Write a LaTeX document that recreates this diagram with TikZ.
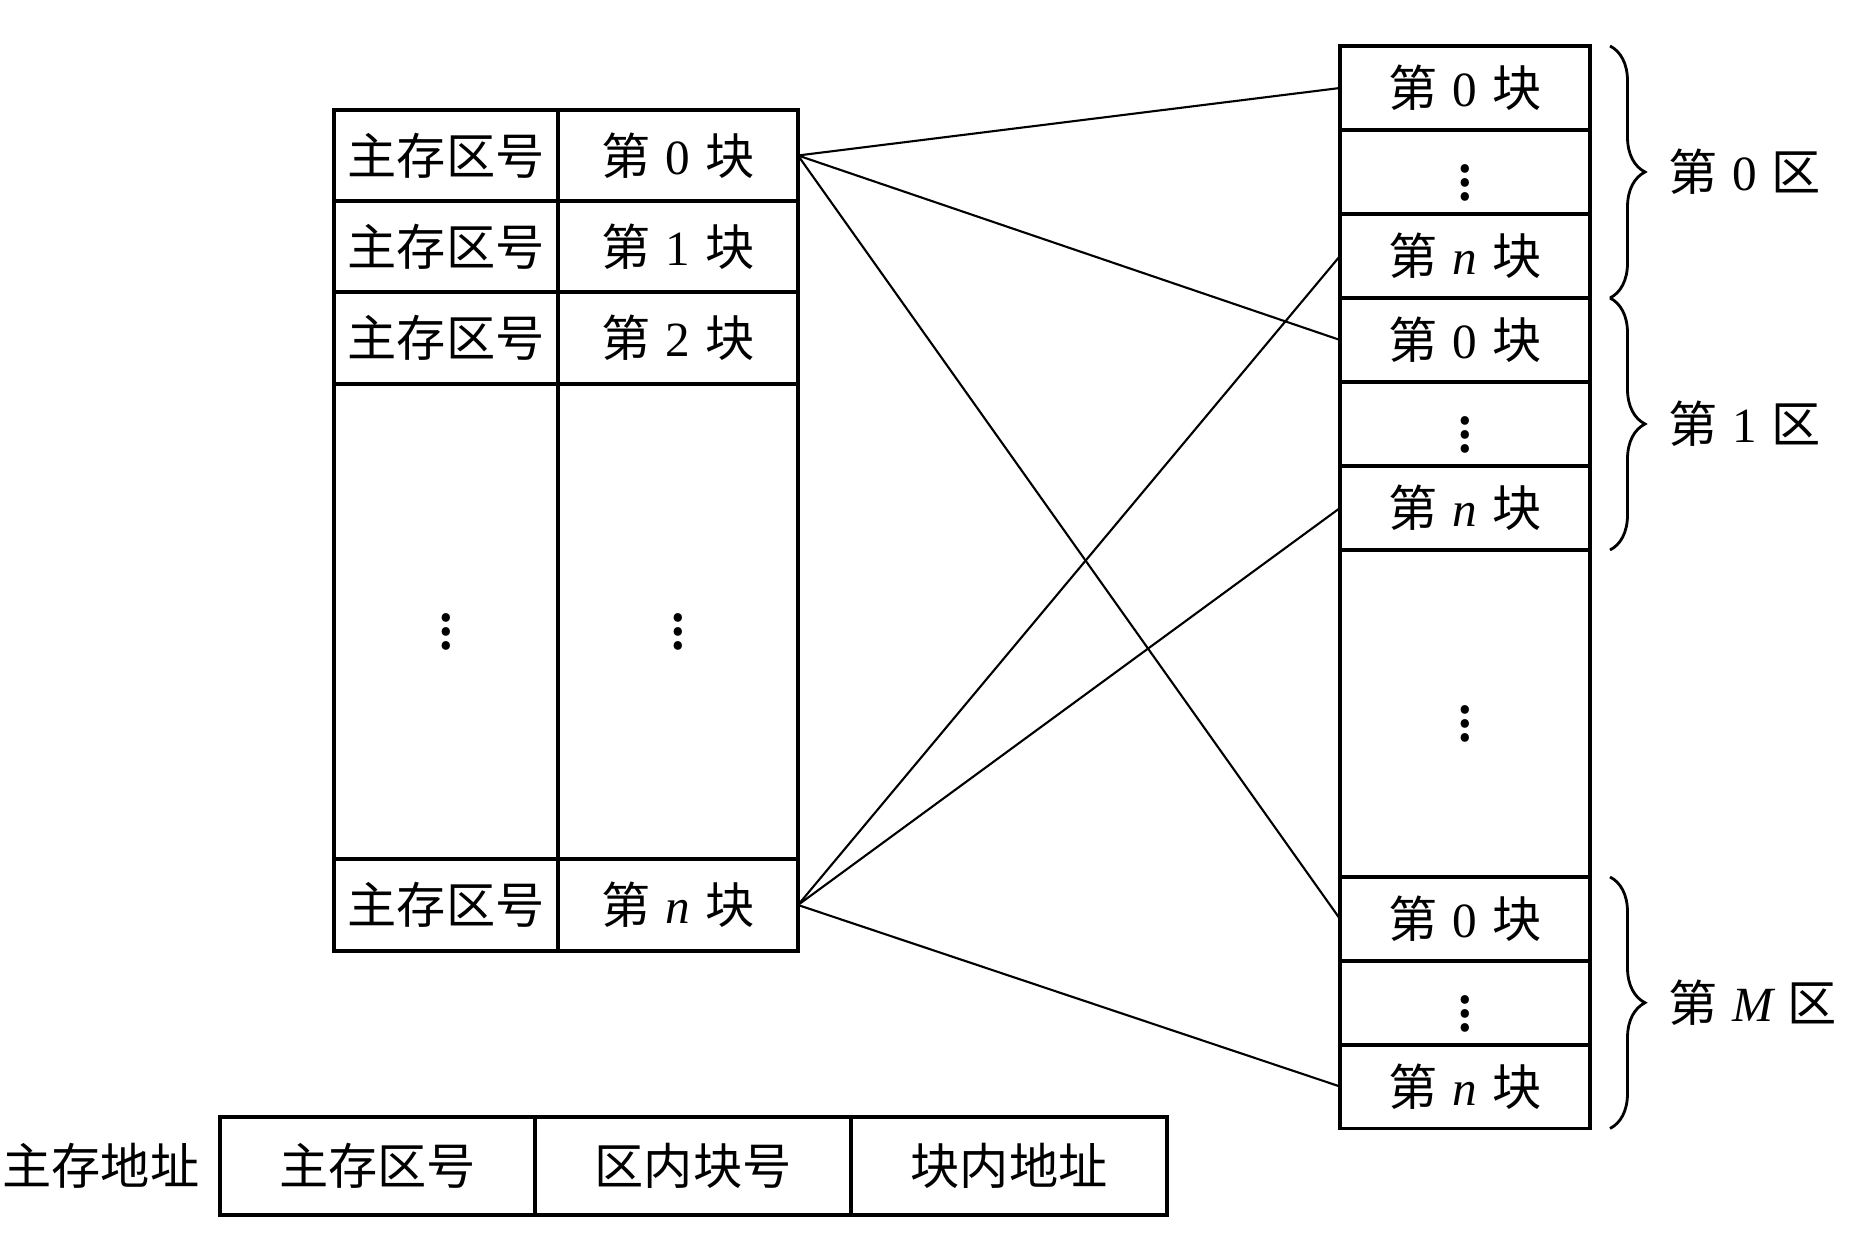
\documentclass[tikz,border=0pt]{standalone}
\usepackage{fontspec}
\setmainfont{Noto Sans CJK SC}
\newfontfamily\latin{Liberation Serif}
\usetikzlibrary{positioning,decorations.pathreplacing}
\newcommand{\kuai}[1]{第\hspace{0.3em}{\latin #1}\hspace{0.3em}块}
\newcommand{\qu}[1]{第\hspace{0.3em}{\latin #1}\hspace{0.3em}区}
\newcommand{\vd}{{\fontsize{18pt}{20pt}\selectfont$\vdots$}}
\tikzset{
    cell/.style={draw, line width=0.9pt, inner sep=0pt, outer sep=0pt, font=\fontsize{14pt}{16pt}\selectfont},
    brc/.style={decorate, decoration={brace, amplitude=0.35cm}, line width=0.8pt}
}
\begin{document}
\begin{tikzpicture}
                \useasboundingbox (0,0) rectangle (18.67,12.44);
                % left table
                \foreach \i/\y/\t in {0/10.885/0, 1/9.975/1, 2/9.06/2}
                    {
                        \node[cell, minimum width=2.24cm, minimum height=0.91cm] (q\i) at (4.46,\y) {主存区号};
                        \node[cell, minimum width=2.40cm, minimum height=0.91cm] (b\i) at (6.78,\y) {\kuai{\t}};
                    }
                \node[cell, minimum width=2.24cm, minimum height=4.75cm] (qd) at (4.46,6.225) {\vd};
                \node[cell, minimum width=2.40cm, minimum height=4.75cm] (bd) at (6.78,6.225) {\vd};
                \node[cell, minimum width=2.24cm, minimum height=0.92cm] (qn) at (4.46,3.39) {主存区号};
                \node[cell, minimum width=2.40cm, minimum height=0.92cm] (bn) at (6.78,3.39) {\kuai{\itshape n}};
                % right column
                \foreach \name/\y/\t in {r00/11.56/\kuai{0}, r0d/10.72/\vd, r0n/9.88/\kuai{\itshape n},
                                          r10/9.04/\kuai{0}, r1d/8.20/\vd, r1n/7.36/\kuai{\itshape n},
                                          rM0/3.25/\kuai{0}, rMd/2.41/\vd, rMn/1.575/\kuai{\itshape n}}
                    {
                        \node[cell, minimum width=2.5cm, minimum height=0.84cm] (\name) at (14.65,\y) {\t};
                    }
                \node[cell, minimum width=2.5cm, minimum height=3.26cm] (rd) at (14.65,5.305) {\vd};
                % braces
                \draw[brc] ([xshift=0.2cm]r00.north east) -- ([xshift=0.2cm]r0n.south east)
                    node[midway, right=0.45cm, font=\fontsize{14pt}{16pt}\selectfont] (l0) {\qu{0}};
                \draw[brc] ([xshift=0.2cm]r10.north east) -- ([xshift=0.2cm]r1n.south east)
                    node[midway, right=0.45cm, font=\fontsize{14pt}{16pt}\selectfont] (l1) {\qu{1}};
                \draw[brc] ([xshift=0.2cm]rM0.north east) -- ([xshift=0.2cm]rMn.south east)
                    node[midway, right=0.45cm, font=\fontsize{14pt}{16pt}\selectfont] (lM) {\qu{\itshape M}};
                % mapping lines
                \foreach \a/\b in {b0/r00, b0/r10, b0/rM0, bn/r0n, bn/r1n, bn/rMn}
                    {
                        \draw[line width=0.6pt] (\a.east) -- (\b.west);
                    }
                % address format
                \node[cell, minimum width=3.15cm, minimum height=0.98cm] (f1) at (3.775,0.78) {主存区号};
                \node[cell, minimum width=3.16cm, minimum height=0.98cm] (f2) at (6.93,0.78) {区内块号};
                \node[cell, minimum width=3.16cm, minimum height=0.98cm] (f3) at (10.09,0.78) {块内地址};
                \node[font=\fontsize{14pt}{16pt}\selectfont, inner sep=0pt, left=0.2cm of f1] (addr) {主存地址};
            \end{tikzpicture}
\end{document}
